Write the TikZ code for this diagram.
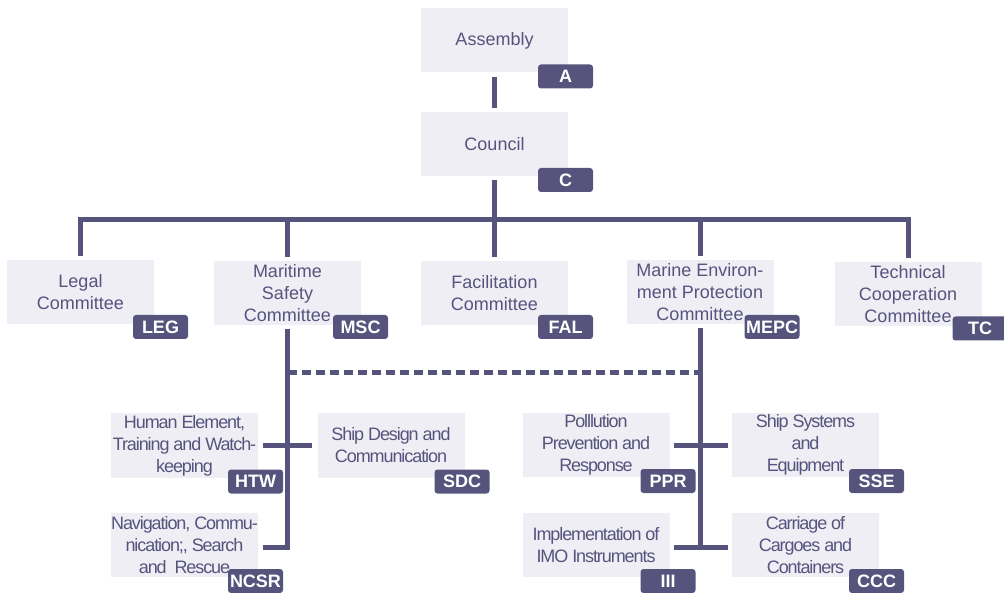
\documentclass[tikz,border=0pt]{standalone}
\usepackage{fontspec}
\setmainfont{Liberation Sans}
\newfontfamily\narrowfont[LetterSpace=-6]{Liberation Sans}
\definecolor{imoline}{RGB}{86,84,125}
\definecolor{imobox}{RGB}{239,238,245}
\tikzset{
  unit/.style={fill=imobox, text=imoline, minimum width=147pt, minimum height=64pt,
    align=center, inner sep=0pt, font=\fontsize{18}{22}\selectfont},
  subunit/.style={unit, font=\narrowfont\fontsize{18}{22}\selectfont},
  tag/.style={fill=imoline, text=white, rounded corners=3pt, minimum width=55pt,
    minimum height=24pt, inner sep=0pt, anchor=south east,
    font=\fontsize{18}{18}\selectfont\bfseries},
  link/.style={draw=imoline, line width=5pt, shorten <=4pt, shorten >=4pt},
}
\begin{document}
\begin{tikzpicture}[x=1pt, y=-1pt]
            \useasboundingbox (0,0) rectangle (1004,593);

            % Drawing top boxes
            \node [unit] (asm) at (494.5,40.5) {Assembly};
            \node [tag] (asmtag) at ([shift={(25,16)}]asm.south east) {A};
            \node [unit] (cou) at (494.5,144) {Council};
            \node [tag] (coutag) at ([shift={(25,16)}]cou.south east) {C};

            % Drawing committees
            \node [unit] (leg) at (80.5,292) {Legal\\Committee};
            \node [tag] (legtag) at ([shift={(34,15)}]leg.south east) {LEG};
            \node [unit] (msc) at (287.5,293) {Maritime\\Safety\\Committee};
            \node [tag] (msctag) at ([shift={(27,14)}]msc.south east) {MSC};
            \node [unit] (fal) at (494.5,293) {Facilitation\\Committee};
            \node [tag] (faltag) at ([shift={(25,14)}]fal.south east) {FAL};
            \node [unit] (mepc) at (700,292) {Marine Environ-\\ment Protection\\Committee};
            \node [tag] (mepctag) at ([shift={(26,15)}]mepc.south east) {MEPC};
            \node [unit] (tc) at (908,294.5) {Technical\\Cooperation\\Committee};
            \node [tag] (tctag) at ([shift={(26,14)}]tc.south east) {TC};

            % Drawing sub-committees
            \node [subunit] (htw) at (184.5,445.5) {Human Element,\\Training and Watch-\\keeping};
            \node [tag] (htwtag) at ([shift={(25,16)}]htw.south east) {HTW};
            \node [subunit] (sdc) at (391,445.5) {Ship Design and\\Communication};
            \node [tag] (sdctag) at ([shift={(25,16)}]sdc.south east) {SDC};
            \node [subunit] (ncsr) at (184.5,545) {Navigation, Commu-\\nication;, Search\\and~~Rescue};
            \node [tag] (ncsrtag) at ([shift={(25,16)}]ncsr.south east) {NCSR};
            \node [subunit] (ppr) at (596,445) {Polllution\\Prevention and\\Response};
            \node [tag] (pprtag) at ([shift={(26,16)}]ppr.south east) {PPR};
            \node [subunit] (sse) at (805.5,445) {Ship Systems\\and\\Equipment};
            \node [tag] (ssetag) at ([shift={(25,16)}]sse.south east) {SSE};
            \node [subunit] (iii) at (596,545) {Implementation of\\IMO Instruments};
            \node [tag] (iiitag) at ([shift={(26,16)}]iii.south east) {III};
            \node [subunit] (ccc) at (805.5,545) {Carriage of\\Cargoes and\\Containers};
            \node [tag] (ccctag) at ([shift={(25,16)}]ccc.south east) {CCC};

            % Drawing bus lines
            \coordinate (bus) at (0,220);
            \coordinate (dash) at (0,373);
            \coordinate (foot) at (0,547);
            \draw [link] (asm) -- (cou);
            \draw [link, shorten >=0pt] (cou) -- (cou |- bus);
            \draw [link] (leg.north) -- (leg.north |- bus) -- (tc.north |- bus) -- (tc.north);
            \draw [link, shorten <=0pt] (msc.north |- bus) -- (msc.north);
            \draw [link, shorten <=0pt] (fal.north |- bus) -- (fal.north);
            \draw [link, shorten <=0pt] (mepc.north |- bus) -- (mepc.north);

            % Drawing MSC branch
            \draw [link, shorten >=5pt] (msc.south) -- (msc.south |- foot) -- (ncsr.east |- foot);
            \draw [link, shorten >=5pt, shorten <=5pt] (htw.east) -- (sdc.west);
            % Drawing MEPC branch
            \draw [link, shorten >=0pt] (mepc.south) -- (mepc.south |- foot);
            \draw [link, shorten >=4pt, shorten <=4pt] (ppr.east) -- (sse.west);
            \draw [link] (iii.east |- foot) -- (ccc.west |- foot);
            % Drawing dashed link
            \draw [link, shorten <=0pt, shorten >=0pt, dash pattern=on 9pt off 5pt]
              (msc.south |- dash) -- (mepc.south |- dash);
\end{tikzpicture}
\end{document}
